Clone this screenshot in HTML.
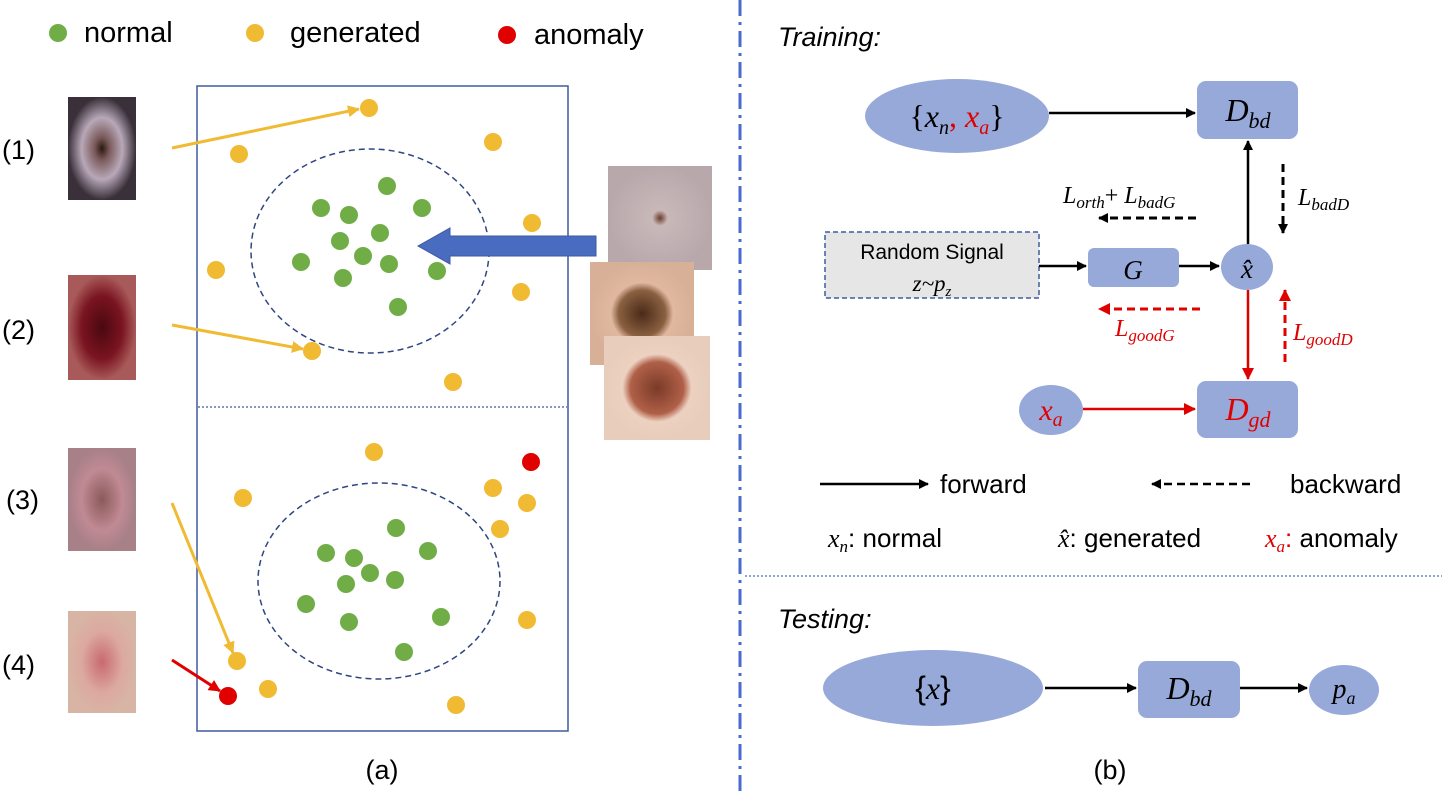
<!DOCTYPE html>
<html><head><meta charset="utf-8"><style>
html,body{margin:0;padding:0;background:#fff}
svg{display:block}
text{font-family:"Liberation Sans",sans-serif}
.m{font-family:"Liberation Serif",serif;font-style:italic}
</style></head><body>
<svg width="1442" height="795" viewBox="0 0 1442 795" xmlns="http://www.w3.org/2000/svg">
<defs>
<marker id="ak" markerWidth="10" markerHeight="10" refX="9" refY="5" orient="auto" markerUnits="userSpaceOnUse"><path d="M0,0 L10,5 L0,10 z" fill="#000"/></marker>
<marker id="ar" markerWidth="12" markerHeight="12" refX="11" refY="6" orient="auto" markerUnits="userSpaceOnUse"><path d="M0,0 L12,6 L0,12 z" fill="#e00000"/></marker>
<marker id="ay" markerWidth="12" markerHeight="12" refX="11" refY="6" orient="auto" markerUnits="userSpaceOnUse"><path d="M0,0 L12,6 L0,12 z" fill="#f0bb33"/></marker>
<radialGradient id="g1"><stop offset="0" stop-color="#2a1810"/><stop offset="0.22" stop-color="#7a5a5a"/><stop offset="0.6" stop-color="#b8a8b8"/><stop offset="1" stop-color="#3a303a"/></radialGradient>
<radialGradient id="g2"><stop offset="0" stop-color="#4a0810"/><stop offset="0.6" stop-color="#7a1420"/><stop offset="1" stop-color="#a85a5a"/></radialGradient>
<radialGradient id="g3"><stop offset="0" stop-color="#8a5a5a"/><stop offset="0.6" stop-color="#c08a94"/><stop offset="1" stop-color="#a88088"/></radialGradient>
<radialGradient id="g4"><stop offset="0" stop-color="#c86a70"/><stop offset="0.6" stop-color="#dca8a0"/><stop offset="1" stop-color="#d8b4a4"/></radialGradient>
<radialGradient id="g5"><stop offset="0" stop-color="#6a3a28"/><stop offset="0.15" stop-color="#c8b8b8"/><stop offset="1" stop-color="#b8a8ac"/></radialGradient>
<radialGradient id="g6"><stop offset="0" stop-color="#4a2a18"/><stop offset="0.45" stop-color="#8a6040"/><stop offset="0.6" stop-color="#e0b8a0"/><stop offset="1" stop-color="#d8b098"/></radialGradient>
<radialGradient id="g7"><stop offset="0" stop-color="#7a3a28"/><stop offset="0.5" stop-color="#b06048"/><stop offset="0.65" stop-color="#ecd0c0"/><stop offset="1" stop-color="#e8ccbc"/></radialGradient>
</defs>

<g>
<circle cx="58" cy="33" r="9" fill="#70ad47"/>
<text x="84" y="42" font-size="29">normal</text>
<circle cx="255" cy="33" r="9" fill="#f0bb33"/>
<text x="290" y="42" font-size="29">generated</text>
<circle cx="507" cy="35" r="9" fill="#e00000"/>
<text x="534" y="44" font-size="29">anomaly</text>
</g>

<text x="2" y="159" font-size="27">(1)</text>
<text x="2" y="339" font-size="27">(2)</text>
<text x="6" y="509" font-size="27">(3)</text>
<text x="2" y="674" font-size="27">(4)</text>
<rect x="68" y="97" width="68" height="103" fill="url(#g1)"/>
<rect x="68" y="275" width="68" height="105" fill="url(#g2)"/>
<rect x="68" y="448" width="68" height="103" fill="url(#g3)"/>
<rect x="68" y="611" width="68" height="102" fill="url(#g4)"/>

<rect x="197" y="86" width="371" height="645" fill="none" stroke="#3f5a9e" stroke-width="1.5"/>
<line x1="198" y1="407" x2="567" y2="407" stroke="#3f5a9e" stroke-width="1.2" stroke-dasharray="2,2"/>
<ellipse cx="370" cy="251" rx="119" ry="102" fill="none" stroke="#2f4680" stroke-width="1.5" stroke-dasharray="6,4"/>
<ellipse cx="379" cy="581" rx="121" ry="98" fill="none" stroke="#2f4680" stroke-width="1.5" stroke-dasharray="6,4"/>

<g id="dots"></g>

<line x1="172" y1="148" x2="359" y2="109" stroke="#f0bb33" stroke-width="3" marker-end="url(#ay)"/>
<line x1="172" y1="325" x2="303" y2="349" stroke="#f0bb33" stroke-width="3" marker-end="url(#ay)"/>
<line x1="172" y1="503" x2="233" y2="653" stroke="#f0bb33" stroke-width="3" marker-end="url(#ay)"/>
<line x1="172" y1="660" x2="220" y2="691" stroke="#e00000" stroke-width="3" marker-end="url(#ar)"/>

<path d="M596,236 L450,236 L450,228 L418,246 L450,264 L450,256 L596,256 z" fill="#4a6cc0" stroke="#3f5a9e" stroke-width="1"/>

<rect x="608" y="166" width="104" height="104" fill="url(#g5)"/>
<rect x="590" y="262" width="104" height="103" fill="url(#g6)"/>
<rect x="604" y="336" width="106" height="104" fill="url(#g7)"/>

<text x="382" y="779" font-size="27" text-anchor="middle">(a)</text>

<line x1="740" y1="0" x2="740" y2="795" stroke="#4a6ad0" stroke-width="3" stroke-dasharray="16,6,3,6"/>

<text x="778" y="46" font-size="27" font-style="italic">Training:</text>
<ellipse cx="957" cy="116" rx="92" ry="37" fill="#97a9d9"/>
<text x="957" y="127" font-size="32" text-anchor="middle" class="m"><tspan font-style="normal">{</tspan>x<tspan font-size="20" dy="7">n</tspan><tspan dy="-7" fill="#e00000" font-style="normal">, </tspan><tspan fill="#e00000">x</tspan><tspan fill="#e00000" font-size="20" dy="7">a</tspan><tspan dy="-7" font-style="normal">}</tspan></text>
<line x1="1049" y1="113" x2="1195" y2="113" stroke="#000" stroke-width="2.5" marker-end="url(#ak)"/>
<rect x="1197" y="81" width="101" height="58" rx="9" fill="#97a9d9"/>
<text x="1248" y="121" font-size="32" text-anchor="middle" class="m">D<tspan font-size="22" dy="7">bd</tspan></text>

<rect x="825" y="232" width="214" height="66" fill="#e6e6e6" stroke="#3f5a9e" stroke-width="1.5" stroke-dasharray="5,3"/>
<text x="932" y="259" font-size="21" text-anchor="middle">Random Signal</text>
<text x="932" y="291" font-size="23" text-anchor="middle" class="m">z~p<tspan font-size="15" dy="5">z</tspan></text>
<line x1="1039" y1="266" x2="1086" y2="266" stroke="#000" stroke-width="2.5" marker-end="url(#ak)"/>
<rect x="1088" y="248" width="91" height="39" rx="6" fill="#97a9d9"/>
<text x="1133" y="279" font-size="27" text-anchor="middle" class="m">G</text>
<line x1="1179" y1="266" x2="1219" y2="266" stroke="#000" stroke-width="2.5" marker-end="url(#ak)"/>
<ellipse cx="1247" cy="267" rx="26" ry="23" fill="#97a9d9"/>
<text x="1247" y="278" font-size="27" text-anchor="middle" class="m">x̂</text>
<line x1="1248" y1="244" x2="1248" y2="141" stroke="#000" stroke-width="2.5" marker-end="url(#ak)"/>
<line x1="1248" y1="290" x2="1248" y2="379" stroke="#e00000" stroke-width="2.5" marker-end="url(#ar)"/>

<line x1="1283" y1="164" x2="1283" y2="233" stroke="#000" stroke-width="3" stroke-dasharray="8,5" marker-end="url(#ak)"/>
<text x="1298" y="205" font-size="24" class="m">L<tspan font-size="17" dy="5">badD</tspan></text>
<line x1="1285" y1="362" x2="1285" y2="290" stroke="#e00000" stroke-width="3" stroke-dasharray="8,5" marker-end="url(#ar)"/>
<text x="1293" y="340" font-size="24" fill="#e00000" class="m">L<tspan font-size="17" dy="5">goodD</tspan></text>
<line x1="1196" y1="218" x2="1099" y2="218" stroke="#000" stroke-width="3" stroke-dasharray="8,5" marker-end="url(#ak)"/>
<text x="1063" y="203" font-size="24" class="m">L<tspan font-size="17" dy="5">orth</tspan><tspan dy="-5" font-style="normal">+ </tspan>L<tspan font-size="17" dy="5">badG</tspan></text>
<line x1="1200" y1="309" x2="1099" y2="309" stroke="#e00000" stroke-width="3" stroke-dasharray="8,5" marker-end="url(#ar)"/>
<text x="1115" y="336" font-size="24" fill="#e00000" class="m">L<tspan font-size="17" dy="5">goodG</tspan></text>

<ellipse cx="1051" cy="410" rx="32" ry="25" fill="#97a9d9"/>
<text x="1051" y="420" font-size="30" fill="#e00000" text-anchor="middle" class="m">x<tspan font-size="20" dy="6">a</tspan></text>
<line x1="1083" y1="409" x2="1195" y2="409" stroke="#e00000" stroke-width="2.5" marker-end="url(#ar)"/>
<rect x="1197" y="381" width="101" height="57" rx="9" fill="#97a9d9"/>
<text x="1248" y="420" font-size="32" fill="#e00000" text-anchor="middle" class="m">D<tspan font-size="22" dy="7">gd</tspan></text>

<line x1="820" y1="484" x2="928" y2="484" stroke="#000" stroke-width="2.5" marker-end="url(#ak)"/>
<text x="940" y="493" font-size="26">forward</text>
<line x1="1250" y1="484" x2="1152" y2="484" stroke="#000" stroke-width="2.5" stroke-dasharray="8,5" marker-end="url(#ak)"/>
<text x="1290" y="493" font-size="26">backward</text>
<text x="828" y="547" font-size="26"><tspan class="m">x</tspan><tspan class="m" font-size="17" dy="5">n</tspan><tspan dy="-5">: normal</tspan></text>
<text x="1058" y="547" font-size="26"><tspan class="m">x̂</tspan>: generated</text>
<text x="1265" y="547" font-size="26"><tspan class="m" fill="#e00000">x</tspan><tspan class="m" fill="#e00000" font-size="17" dy="5">a</tspan><tspan dy="-5" fill="#e00000">:</tspan> anomaly</text>

<line x1="745" y1="576" x2="1442" y2="576" stroke="#4a6ad0" stroke-width="1.2" stroke-dasharray="2,2"/>

<text x="778" y="628" font-size="27" font-style="italic">Testing:</text>
<ellipse cx="933" cy="688" rx="110" ry="38" fill="#97a9d9"/>
<text x="933" y="699" font-size="32" text-anchor="middle"><tspan>{</tspan><tspan class="m">x</tspan><tspan>}</tspan></text>
<line x1="1045" y1="688" x2="1136" y2="688" stroke="#000" stroke-width="2.5" marker-end="url(#ak)"/>
<rect x="1138" y="661" width="102" height="57" rx="9" fill="#97a9d9"/>
<text x="1189" y="699" font-size="32" text-anchor="middle" class="m">D<tspan font-size="22" dy="7">bd</tspan></text>
<line x1="1240" y1="688" x2="1307" y2="688" stroke="#000" stroke-width="2.5" marker-end="url(#ak)"/>
<ellipse cx="1344" cy="690" rx="35" ry="25" fill="#97a9d9"/>
<text x="1344" y="698" font-size="28" text-anchor="middle" class="m">p<tspan font-size="18" dy="6">a</tspan></text>

<text x="1110" y="779" font-size="27" text-anchor="middle">(b)</text>
</svg>
<script>
const normalX=[387,321,349,422,340,380,301,363,389,437,343,398,396,326,354,428,346,370,395,306,441,349,404];
const normalY=[186,208,215,208,241,233,262,256,264,271,278,307,528,553,558,551,584,573,580,604,617,622,652];
const genX=[369,239,493,532,216,521,312,453,374,243,493,527,500,527,237,268,456];
const genY=[108,154,142,223,270,292,351,382,452,498,488,503,529,620,661,689,705];
const anomX=[531,228];
const anomY=[462,696];
const g=document.getElementById('dots');
const NS='http://www.w3.org/2000/svg';
function dot(x,y,c,n){const el=document.createElementNS(NS,'circle');el.setAttribute('cx',x);el.setAttribute('cy',y);el.setAttribute('r',9);el.setAttribute('fill',c);


g.appendChild(el);}
normalX.forEach((x,i)=>dot(x,normalY[i],'#70ad47','normal-point'));
genX.forEach((x,i)=>dot(x,genY[i],'#f0bb33','generated-point'));
anomX.forEach((x,i)=>dot(x,anomY[i],'#e00000','anomaly-point'));
</script>
</body></html>
